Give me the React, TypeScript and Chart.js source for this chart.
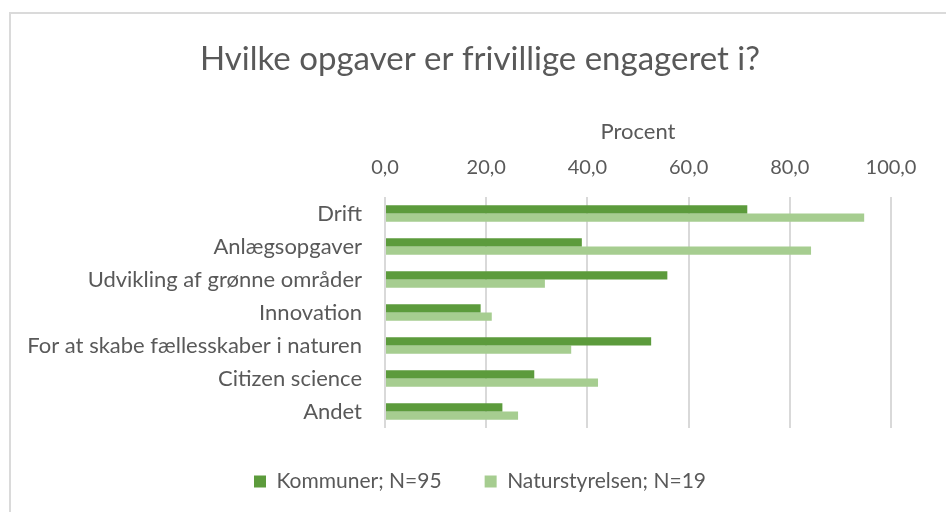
import { useEffect, useRef } from "react";
import { Chart, registerables } from "chart.js";

Chart.register(...registerables);

const categories = [
  "Drift",
  "Anlægsopgaver",
  "Udvikling af grønne områder",
  "Innovation",
  "For at skabe fællesskaber i naturen",
  "Citizen science",
  "Andet",
];
const kommuner = [71.6, 38.9, 55.8, 18.9, 52.6, 29.5, 23.2];
const naturstyrelsen = [94.7, 84.2, 31.6, 21.1, 36.8, 42.1, 26.3];
const seriesLabels = ["Kommuner; N=95", "Naturstyrelsen; N=19"];
const xTickValues = [0, 20, 40, 60, 80, 100];
const chartTitle = "Hvilke opgaver er frivillige engageret i?";
const axisTitle = "Procent";

const FONT = "Lato, 'Open Sans', sans-serif";
const TEXT = "#595959";

export default function App() {
  const ref = useRef<HTMLCanvasElement | null>(null);

  useEffect(() => {
    if (!ref.current) return;
    const chart = new Chart(ref.current, {
      type: "bar",
      data: {
        labels: categories,
        datasets: [
          {
            label: seriesLabels[0],
            data: kommuner,
            backgroundColor: "#5c9b3c",
            borderWidth: 0,
            categoryPercentage: 0.5,
            barPercentage: 1.0,
          },
          {
            label: seriesLabels[1],
            data: naturstyrelsen,
            backgroundColor: "#a6cd90",
            borderWidth: 0,
            categoryPercentage: 0.5,
            barPercentage: 1.0,
          },
        ],
      },
      options: {
        indexAxis: "y",
        responsive: false,
        animation: false,
        devicePixelRatio: 1,
        layout: { padding: { top: 0, left: 14, right: 0, bottom: 10 } },
        plugins: {
          title: {
            display: true,
            text: chartTitle,
            color: TEXT,
            font: { family: FONT, size: 33, weight: "normal" },
            padding: { top: 40, bottom: 39 },
          },
          legend: {
            display: true,
            position: "bottom",
            labels: {
              color: TEXT,
              font: { family: FONT, size: 21 },
              boxWidth: 12,
              boxHeight: 12,
              padding: 43,
            },
          },
          tooltip: { enabled: false },
        },
        scales: {
          x: {
            type: "linear",
            position: "top",
            min: 0,
            max: 100,
            afterBuildTicks: (s: any) => {
              s.ticks = xTickValues.map((v) => ({ value: v }));
            },
            afterFit: (s: any) => {
              s.height = 78.5;
            },
            ticks: {
              color: TEXT,
              font: { family: FONT, size: 20 },
              padding: 18,
              callback: (v: any) => Number(v).toFixed(1).replace(".", ","),
            },
            grid: { color: "#d9d9d9", lineWidth: 2, drawTicks: false },
            border: { display: false },
            title: {
              display: true,
              text: axisTitle,
              color: TEXT,
              font: { family: FONT, size: 22 },
              padding: { top: 0, bottom: 12 },
            },
          },
          y: {
            type: "category",
            afterFit: (s: any) => {
              s.width = 371;
            },
            ticks: {
              color: TEXT,
              font: { family: FONT, size: 22 },
              padding: 23,
            },
            grid: { display: false, drawTicks: false },
            border: { display: false },
          },
          y2: {
            type: "linear",
            position: "right",
            display: true,
            afterFit: (s: any) => {
              s.width = 55;
            },
            ticks: { display: false },
            grid: { display: false, drawTicks: false },
            border: { display: false },
          },
        },
      },
    });
    return () => chart.destroy();
  }, []);

  return (
    <div>
      <div
        style={{
          position: "fixed",
          left: 9,
          top: 12,
          width: 2000,
          height: 2000,
          borderLeft: "2px solid #dadada",
          borderTop: "2px solid #dadada",
          background: "#fff",
        }}
      />
      <canvas
        ref={ref}
        width={946}
        height={512}
        style={{ position: "fixed", left: 0, top: 0, width: 946, height: 512 }}
      />
    </div>
  );
}
